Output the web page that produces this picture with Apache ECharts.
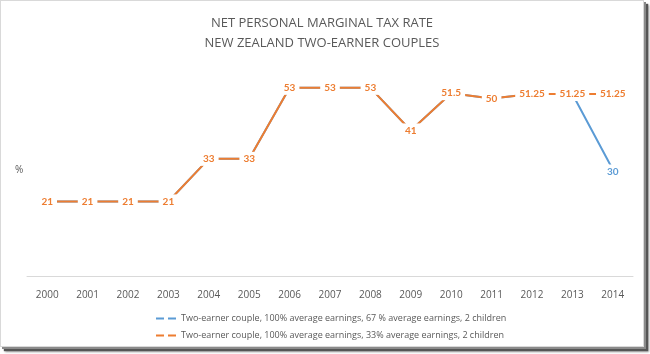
<!DOCTYPE html>
<html><head><meta charset="utf-8">
<script src="https://cdn.jsdelivr.net/npm/echarts@6/dist/echarts.min.js"></script>
<style>
html,body{margin:0;padding:0;background:#fff;}
#wrap{position:absolute;left:0;top:0;width:650px;height:354px;background:#fff;}
#chart{position:absolute;left:0;top:0;width:644px;height:347px;border:1px solid #d9d9d9;box-sizing:border-box;background:#fff;
box-shadow:2px 2px 0 #8a8a8a,4px 4px 1px #555,5px 5px 2px #999;}
</style></head>
<body><div id="wrap"><div id="chart"></div></div>
<script>
var years = ['2000','2001','2002','2003','2004','2005','2006','2007','2008','2009','2010','2011','2012','2013','2014'];
var blueName = 'Two-earner couple, 100% average earnings, 67 % average earnings, 2 children';
var orangeName = 'Two-earner couple, 100% average earnings, 33% average earnings, 2 children';
var blueValues = [21,21,21,21,33,33,53,53,53,41,51.5,50,51.25,51.25,30];
var orangeValues = [21,21,21,21,33,33,53,53,53,41,51.5,50,51.25,51.25,51.25];
var titleLines = ['NET PERSONAL MARGINAL TAX RATE','NEW ZEALAND TWO-EARNER COUPLES'];

var chart = echarts.init(document.getElementById('chart'), null, {renderer:'canvas'});
var lblFamily = 'Lato, "Open Sans", sans-serif';
chart.setOption({
  animation:false,
  title:{text:titleLines.join('\n'), left:'center', top:7,
    textStyle:{fontFamily:'"Open Sans", Lato, sans-serif', fontSize:13, fontWeight:'normal', color:'#595959', lineHeight:20}},
  graphic:[{type:'text', left:14, top:164, style:{text:'%', fill:'#595959', font:'10px "Open Sans", sans-serif'}}],
  legend:{orient:'vertical', left:150, top:308, itemGap:8, itemWidth:20, itemHeight:2,
    icon:'path://M0,0h8v2h-8z M12,0h8v2h-8z',
    textStyle:{fontFamily:'"Open Sans", Lato, sans-serif', fontSize:9, color:'#595959'},
    data:[blueName, orangeName]},
  grid:{left:26, right:10, top:62, bottom:70},
  xAxis:{type:'category', data:years, boundaryGap:true,
    axisLine:{lineStyle:{color:'#d9d9d9', width:1}}, axisTick:{show:false},
    axisLabel:{color:'#595959', fontFamily:'"Open Sans", Lato, sans-serif', fontSize:10, margin:14}},
  yAxis:{type:'value', min:0, max:60, show:false, splitLine:{show:false}},
  series:[
    {name:blueName, type:'line', data:blueValues, symbol:'circle', symbolSize:0, showSymbol:true, z:2,
      lineStyle:{color:'#5B9BD5', width:2}, itemStyle:{color:'#5B9BD5'},
      label:{show:true, position:'inside', color:'#5B9BD5', backgroundColor:'#fff', padding:[2,4],
        formatter:function(p){return p.dataIndex===14 ? String(p.value) : '';}, fontFamily:lblFamily, fontSize:10, fontWeight:'bold', offset:[0,2]}},
    {name:orangeName, type:'line', data:orangeValues, symbol:'circle', symbolSize:0, showSymbol:true, z:3,
      lineStyle:{color:'#ED7D31', width:2}, itemStyle:{color:'#ED7D31'},
      label:{show:true, position:'inside', color:'#ED7D31', backgroundColor:'#fff', padding:[2,4],
        fontFamily:lblFamily, fontSize:10, fontWeight:'bold'}}
  ]
});
</script></body></html>
